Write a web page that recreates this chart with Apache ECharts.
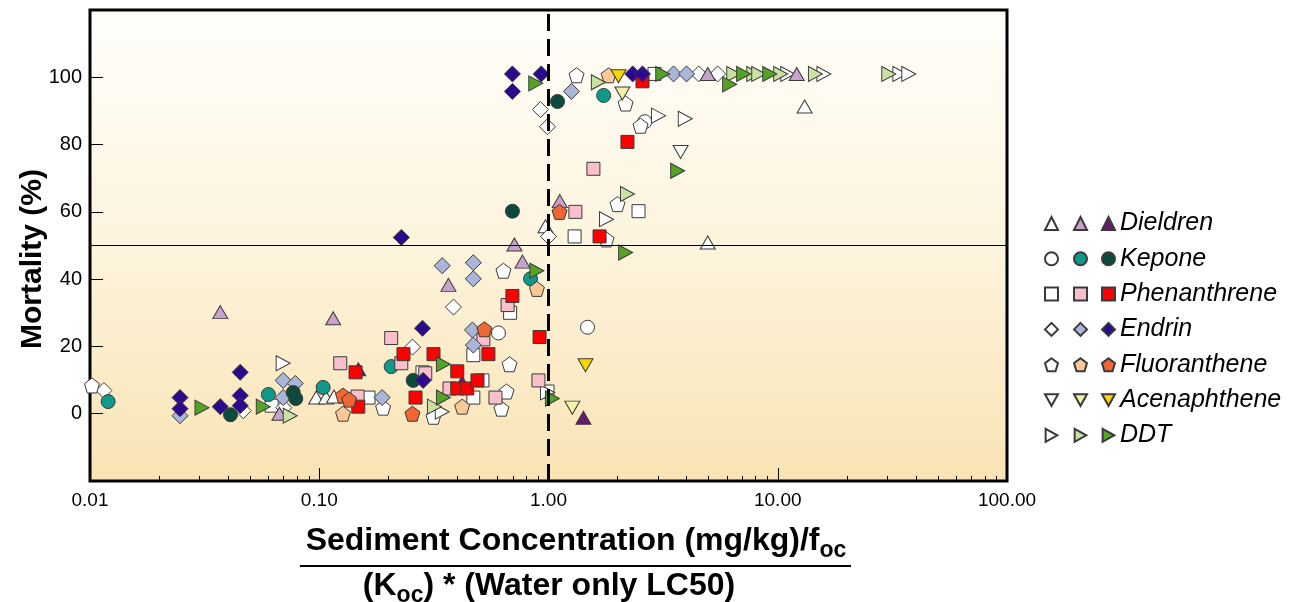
<!DOCTYPE html>
<html>
<head>
<meta charset="utf-8">
<script src="https://cdn.jsdelivr.net/npm/echarts@6/dist/echarts.min.js"></script>
<style>
  html, body { margin: 0; padding: 0; background: #fff; }
  #main { width: 1289px; height: 602px; }
</style>
</head>
<body>
<div id="main"></div>
<script>
// data: [sediment concentration ratio, mortality %]
var dieldrenWhite = [[0.097, 4.8], [0.107, 4.8], [0.116, 5.1], [0.97, 55.7], [4.95, 50.9], [13.1, 91.3]];
var dieldrenLight = [[0.037, 30.2], [0.115, 28.4], [0.067, 0], [0.366, 38.3], [0.71, 50.3], [0.77, 45.2], [1.12, 63.2], [4.95, 101], [12.1, 101]];
var dieldrenDark = [[0.148, 13.2], [0.42, 9.3], [1.42, -1.2]];

var keponeWhite = [[0.605, 24], [1.48, 25.7], [2.63, 86.8]];
var keponeLight = [[0.012, 3.6], [0.06, 5.7], [0.104, 7.8], [0.206, 14], [0.835, 40.1], [1.74, 94.6]];
var keponeDark = [[0.041, -0.3], [0.077, 6.3], [0.079, 4.5], [0.257, 9.9], [0.696, 60.2], [1.095, 92.8]];

var phenWhite = [[0.062, 2.4], [0.164, 4.8], [0.282, 12.3], [0.47, 17.4], [0.47, 4.8], [0.515, 9.9], [0.68, 30], [0.99, 6.6], [1.3, 52.7], [2.47, 60.2], [2.9, 101]];
var phenLight = [[0.1235, 15], [0.147, 5.1], [0.206, 22.5], [0.228, 15], [0.29, 12], [0.37, 7.5], [0.52, 22.1], [0.587, 4.8], [0.663, 32.3], [0.904, 9.9], [1.31, 60], [1.57, 72.8]];
var phenDark = [[0.144, 12.3], [0.148, 2.1], [0.233, 17.7], [0.263, 4.8], [0.315, 17.7], [0.4, 12.6], [0.4, 7.5], [0.442, 7.5], [0.49, 9.9], [0.547, 17.7], [0.696, 35], [0.914, 22.8], [1.67, 52.7], [2.21, 80.8], [2.57, 98.8]];

var endrinWhite = [[0.0115, 6.9], [0.0466, 0.9], [0.07, 1.8], [0.255, 19.8], [0.385, 31.7], [0.922, 90.4], [0.99, 85.3], [1.0, 52.7], [4.52, 101], [5.47, 101]];
var endrinLight = [[0.0247, -0.6], [0.0696, 9.9], [0.0786, 9], [0.0696, 4.8], [0.188, 4.8], [0.344, 44], [0.47, 44.9], [0.47, 40.1], [0.466, 24.9], [0.47, 20.4], [1.26, 95.8], [3.51, 101], [4.0, 101]];
var endrinDark = [[0.0247, 4.8], [0.0247, 1.5], [0.037, 2.1], [0.0452, 12.3], [0.0452, 5.4], [0.0452, 2.4], [0.228, 52.4], [0.282, 25.4], [0.284, 9.9], [0.696, 101], [0.696, 95.8], [0.93, 101], [2.33, 101], [2.57, 101]];

var fluorWhite = [[0.0102, 8.4], [0.19, 1.8], [0.315, -0.9], [0.623, 1.5], [0.656, 6.6], [0.676, 14.7], [0.636, 42.5], [1.325, 100.6], [1.79, 51.8], [2.0, 62.3], [2.17, 92.2], [2.52, 85.6]];
var fluorLight = [[0.127, 0], [0.42, 2.1], [0.89, 37.1], [1.83, 100.6]];
var fluorDark = [[0.127, 5.4], [0.135, 4.2], [0.255, 0], [0.525, 25.1], [1.117, 60]];

var acenWhite = [[3.77, 77.8]];
var acenLight = [[1.27, 1.8], [2.1, 95.2]];
var acenDark = [[1.45, 14.4], [2.02, 100.3]];

var ddtWhite = [[0.0696, 15], [0.344, 0.6], [0.99, 6.3], [1.79, 57.8], [3.02, 88.6], [3.95, 87.7], [11.06, 101], [15.9, 101], [34.1, 101], [37.3, 101]];
var ddtLight = [[0.0747, -0.6], [0.318, 2.1], [1.65, 98.5], [2.21, 65.3], [6.43, 101], [7.86, 101], [8.26, 101], [10.3, 101], [14.6, 101], [30.5, 101]];
var ddtDark = [[0.0308, 1.8], [0.057, 2.1], [0.348, 14.7], [0.348, 4.8], [0.88, 98.2], [0.89, 42.5], [1.04, 4.5], [2.17, 47.9], [3.15, 101], [3.66, 72.2], [6.17, 97.9], [7.1, 101], [9.23, 101]];

var chemicals = ['Dieldren', 'Kepone', 'Phenanthrene', 'Endrin', 'Fluoranthene', 'Acenaphthene', 'DDT'];
var chemData = {
    Dieldren: [dieldrenWhite, dieldrenLight, dieldrenDark],
    Kepone: [keponeWhite, keponeLight, keponeDark],
    Phenanthrene: [phenWhite, phenLight, phenDark],
    Endrin: [endrinWhite, endrinLight, endrinDark],
    Fluoranthene: [fluorWhite, fluorLight, fluorDark],
    Acenaphthene: [acenWhite, acenLight, acenDark],
    DDT: [ddtWhite, ddtLight, ddtDark]
};
var xMajor = [0.01, 0.1, 1, 10, 100];
var xMinor = [0.02, 0.03, 0.04, 0.05, 0.06, 0.07, 0.08, 0.09,
              0.2, 0.3, 0.4, 0.5, 0.6, 0.7, 0.8, 0.9,
              2, 3, 4, 5, 6, 7, 8, 9,
              20, 30, 40, 50, 60, 70, 80, 90];
var yTicks = [0, 20, 40, 60, 80, 100];

// 样式
var symbols = {
    Dieldren: 'triangle',
    Kepone: 'circle',
    Phenanthrene: 'rect',
    Endrin: 'diamond',
    Fluoranthene: 'path://M50,0 L100,38 L81,100 L19,100 L0,38 Z',
    Acenaphthene: 'path://M0,0 L100,0 L50,90 Z',
    DDT: 'path://M0,0 L90,50 L0,100 Z'
};
var sizes = {Dieldren: [15, 13], Kepone: 14, Phenanthrene: 13, Endrin: 16, Fluoranthene: 15, Acenaphthene: [15, 13], DDT: [14, 15]};
var colors = {
    Dieldren: ['#ffffff', '#c9a2cb', '#6a1a6c'],
    Kepone: ['#ffffff', '#10998a', '#0b4a3c'],
    Phenanthrene: ['#ffffff', '#f9c0cc', '#ff0000'],
    Endrin: ['#ffffff', '#a9b6da', '#2b0a8e'],
    Fluoranthene: ['#ffffff', '#f9c895', '#f26535'],
    Acenaphthene: ['#ffffff', '#f3f2aa', '#f8d800'],
    DDT: ['#ffffff', '#c9e2a0', '#55a324']
};
var font = 'Liberation Sans, Arial, sans-serif';

var series = [];
[0, 1, 2].forEach(function (s) {
    chemicals.forEach(function (c) {
        series.push({
            name: c + '|' + s,
            type: 'scatter',
            xAxisIndex: 0,
            data: chemData[c][s],
            symbol: symbols[c],
            symbolSize: sizes[c],
            z: 3,
            itemStyle: {color: colors[c][s], borderColor: '#3a3a3a', borderWidth: 1, opacity: 1}
        });
    });
});
// 参考线
series.push({
    type: 'scatter', data: [], z: 1, silent: true,
    markLine: {silent: true, symbol: 'none', label: {show: false}, animation: false,
        data: [{yAxis: 50, lineStyle: {color: '#000', width: 1, type: 'solid'}}]}
});
series.push({
    type: 'scatter', data: [], z: 6, silent: true,
    markLine: {silent: true, symbol: 'none', label: {show: false}, animation: false, z: 6,
        data: [{xAxis: 1, lineStyle: {color: '#000', width: 3, type: [17, 8]}}]}
});

var myChart = echarts.init(document.getElementById('main'));

option = {
    animation: false,
    backgroundColor: '#fff',
    grid: {
        left: 90, right: 282, top: 10, bottom: 121,
        show: true,
        borderColor: '#000', borderWidth: 3,
        backgroundColor: new echarts.graphic.LinearGradient(0, 0, 0, 1, [
            {offset: 0, color: '#fffefb'},
            {offset: 0.5, color: '#fdf4dd'},
            {offset: 1, color: '#f9e3b4'}
        ])
    },
    xAxis: [{
        type: 'log', logBase: 10, min: 0.01, max: 100, position: 'bottom',
        axisLine: {show: false, onZero: false},
        splitLine: {show: false},
        axisTick: {inside: true, length: 13, lineStyle: {color: '#000', width: 1}, customValues: xMajor},
        axisLabel: {
            customValues: xMajor, margin: 10,
            color: '#000', fontFamily: font, fontSize: 19,
            formatter: function (v) { return Number(v).toFixed(2); }
        }
    }, {
        type: 'log', logBase: 10, min: 0.01, max: 100, position: 'bottom',
        axisLine: {show: false, onZero: false},
        splitLine: {show: false},
        axisLabel: {show: false},
        axisTick: {inside: true, length: 5, lineStyle: {color: '#000', width: 1}, customValues: xMinor}
    }],
    yAxis: {
        type: 'value', min: -20, max: 120, interval: 20,
        axisLine: {show: false, onZero: false},
        splitLine: {show: false},
        axisTick: {inside: true, length: 13, lineStyle: {color: '#000', width: 1}, customValues: yTicks},
        axisLabel: {customValues: yTicks, margin: 8, color: '#000', fontFamily: font, fontSize: 20}
    },
    legend: [0, 1, 2].map(function (s) {
        return {
            data: chemicals.map(function (c) { return c + '|' + s; }),
            orient: 'vertical',
            left: [1039, 1068, 1096][s],
            top: 206,
            itemWidth: 13, itemHeight: 13, itemGap: 10.3,
            selectedMode: false,
            formatter: s === 2 ? function (n) { return n.split('|')[0]; } : function () { return ' '; },
            textStyle: {fontFamily: font, fontSize: 25, fontStyle: 'italic', color: '#000', lineHeight: 25}
        };
    }),
    graphic: [
        {type: 'text', x: 33, y: 259, rotation: Math.PI / 2,
            style: {text: 'Mortality (%)', font: 'bold 30px ' + font, fill: '#000', align: 'center', verticalAlign: 'middle'}},
        {type: 'text', x: 576, y: 541,
            style: {text: 'Sediment Concentration (mg/kg)/f{sub|oc}', font: 'bold 32px ' + font, fill: '#000',
                align: 'center', verticalAlign: 'middle',
                rich: {sub: {fontSize: 23, fontWeight: 'bold', fontFamily: font, padding: [20, 0, 0, 0]}}}},
        {type: 'line', shape: {x1: 300, y1: 566, x2: 851, y2: 566}, style: {stroke: '#000', lineWidth: 2}},
        {type: 'text', x: 549, y: 586,
            style: {text: '(K{sub|oc}) * (Water only LC50)', font: 'bold 32px ' + font, fill: '#000',
                align: 'center', verticalAlign: 'middle',
                rich: {sub: {fontSize: 23, fontWeight: 'bold', fontFamily: font, padding: [20, 0, 0, 0]}}}}
    ],
    series: series
};

myChart.setOption(option);
</script>
</body>
</html>
